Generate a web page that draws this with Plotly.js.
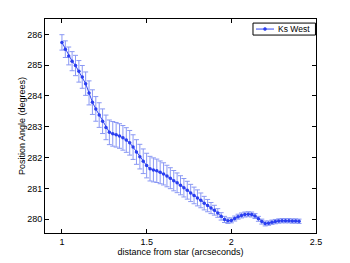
<!DOCTYPE html>
<html>
<head>
<meta charset="utf-8">
<script src="https://cdn.plot.ly/plotly-3.0.1.min.js"></script>
<style>html,body{margin:0;padding:0;background:#fff;}#chart{width:350px;height:263px;}</style>
</head>
<body>
<div id="chart"></div>
<script>
const distance = [1.00,1.02,1.04,1.06,1.08,1.10,1.12,1.14,1.16,1.18,
  1.20,1.22,1.24,1.26,1.28,1.30,1.32,1.34,1.36,1.38,
  1.40,1.42,1.44,1.46,1.48,1.50,1.52,1.54,1.56,1.58,
  1.60,1.62,1.64,1.66,1.68,1.70,1.72,1.74,1.76,1.78,
  1.80,1.82,1.84,1.86,1.88,1.90,1.92,1.94,1.96,1.98,
  2.00,2.02,2.04,2.06,2.08,2.10,2.12,2.14,2.16,2.18,
  2.20,2.22,2.24,2.26,2.28,2.30,2.32,2.34,2.36,2.38,2.40];
const positionAngle = [285.74,285.52,285.30,285.13,284.99,284.80,284.62,284.40,284.10,283.80,
  283.58,283.38,283.18,282.98,282.82,282.77,282.74,282.70,282.64,282.57,
  282.48,282.34,282.18,282.03,281.88,281.74,281.64,281.60,281.57,281.52,
  281.47,281.40,281.33,281.25,281.18,281.10,281.02,280.94,280.85,280.77,
  280.69,280.61,280.52,280.44,280.36,280.29,280.20,280.09,279.99,279.95,
  279.96,280.02,280.08,280.12,280.15,280.16,280.15,280.10,280.01,279.92,
  279.86,279.87,279.90,279.92,279.94,279.95,279.95,279.95,279.94,279.94,279.93];
const angleError = [0.25,0.27,0.29,0.31,0.33,0.35,0.37,0.38,0.39,0.40,
  0.40,0.40,0.40,0.40,0.40,0.40,0.40,0.40,0.40,0.40,
  0.40,0.40,0.40,0.40,0.40,0.40,0.40,0.39,0.38,0.37,
  0.36,0.35,0.34,0.33,0.32,0.31,0.30,0.29,0.28,0.27,
  0.26,0.24,0.22,0.20,0.18,0.16,0.14,0.12,0.10,0.09,
  0.08,0.08,0.08,0.08,0.08,0.08,0.08,0.08,0.08,0.08,
  0.08,0.07,0.07,0.07,0.07,0.07,0.07,0.07,0.07,0.07,0.07];
const seriesName = 'Ks West';

const FONT = 'Liberation Sans, Arial, sans-serif';
const lineColor = '#3347f2';
const trace = {
  x: distance, y: positionAngle, type: 'scatter', mode: 'lines+markers', name: seriesName,
  line: {color: lineColor, width: 1},
  marker: {color: '#2a3ef0', size: 3.5, symbol: 'circle'},
  error_y: {type: 'data', array: angleError, visible: true, color: '#8a98f4', thickness: 1, width: 2.5}
};
const axisBase = {
  showline: true, linecolor: '#000', linewidth: 1, mirror: 'ticks',
  ticks: 'inside', ticklen: 4, tickcolor: '#000', showgrid: false, zeroline: false,
  tickfont: {family: FONT, size: 9, color: '#000'}
};
// legend box (MATLAB-style, compact) in paper coordinates
const lgX0 = 0.7675, lgX1 = 0.998, lgY0 = 0.925, lgY1 = 0.981, lgYm = 0.953;
const layout = {
  width: 350, height: 263,
  margin: {l: 45, r: 34, t: 19, b: 30},
  paper_bgcolor: '#fff', plot_bgcolor: '#fff',
  showlegend: false,
  xaxis: Object.assign({}, axisBase, {range: [0.9, 2.5], tickvals: [1, 1.5, 2, 2.5], ticktext: ['1','1.5','2','2.5'],
    title: {text: 'distance from star (arcseconds)', standoff: 2, font: {family: FONT, size: 9, color: '#000'}}}),
  yaxis: Object.assign({}, axisBase, {range: [279.55, 286.5], tickvals: [280,281,282,283,284,285,286],
    title: {text: 'Position Angle (degrees)', standoff: 0, font: {family: FONT, size: 9, color: '#000'}}}),
  shapes: [
    {type: 'rect', xref: 'paper', yref: 'paper', x0: lgX0, x1: lgX1, y0: lgY0, y1: lgY1,
      line: {color: '#000', width: 1}, fillcolor: '#fff'},
    {type: 'line', xref: 'paper', yref: 'paper', x0: 0.7786, x1: 0.8450, y0: lgYm, y1: lgYm,
      line: {color: lineColor, width: 1}},
    {type: 'circle', xref: 'paper', yref: 'paper', x0: 0.8118 - 0.0055, x1: 0.8118 + 0.0055, y0: lgYm - 0.007, y1: lgYm + 0.007,
      line: {color: '#2a3ef0', width: 0.5}, fillcolor: '#2a3ef0'}
  ],
  annotations: [
    {xref: 'paper', yref: 'paper', x: 0.852, y: lgYm, xanchor: 'left', yanchor: 'middle',
      text: seriesName, showarrow: false, font: {family: FONT, size: 8.5, color: '#000'}}
  ]
};
Plotly.newPlot('chart', [trace], layout, {displayModeBar: false, staticPlot: true});
</script>
</body>
</html>
